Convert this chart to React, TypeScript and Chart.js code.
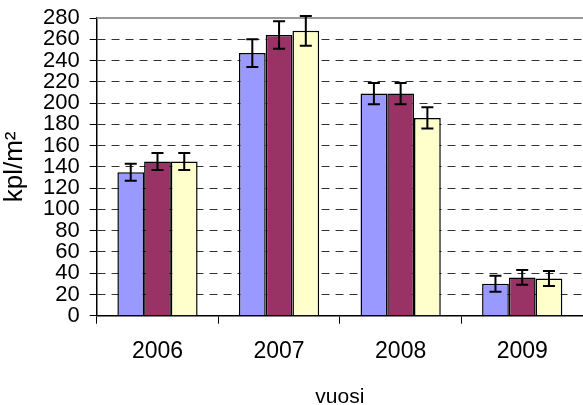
import React, { useEffect, useRef } from "react";
import { Chart, registerables } from "chart.js";

Chart.register(...registerables);

const categories = ["2006", "2007", "2008", "2009"];
const seriesA = [135, 247, 209, 30];
const seriesB = [145, 264, 209, 36];
const seriesC = [145, 268, 186, 35];
const errorsA = [8, 13, 10, 7.5];
const errorsB = [8, 13, 10, 7];
const errorsC = [8, 14, 10, 7];
const yTitle = "kpl/m²";
const xTitle = "vuosi";

const errorsBySeries = [errorsA, errorsB, errorsC];

const errorBarPlugin = {
  id: "errorBars",
  afterDatasetsDraw(chart: any) {
    const ctx = chart.ctx;
    const y = chart.scales.y;
    ctx.save();
    ctx.strokeStyle = "#000";
    ctx.lineWidth = 2;
    chart.data.datasets.forEach((ds: any, di: number) => {
      const meta = chart.getDatasetMeta(di);
      meta.data.forEach((bar: any, i: number) => {
        const v = ds.data[i];
        const e = errorsBySeries[di][i];
        const top = y.getPixelForValue(v + e);
        const bot = y.getPixelForValue(v - e);
        const x = bar.x;
        const cap = 6;
        ctx.beginPath();
        ctx.moveTo(x, top);
        ctx.lineTo(x, bot);
        ctx.moveTo(x - cap, top);
        ctx.lineTo(x + cap, top);
        ctx.moveTo(x - cap, bot);
        ctx.lineTo(x + cap, bot);
        ctx.stroke();
      });
    });
    ctx.restore();
  },
};

const topLinePlugin = {
  id: "topLine",
  beforeDatasetsDraw(chart: any) {
    const { ctx, chartArea } = chart;
    ctx.save();
    ctx.strokeStyle = "#999";
    ctx.lineWidth = 2;
    ctx.beginPath();
    ctx.moveTo(chartArea.left, chartArea.top);
    ctx.lineTo(chartArea.right, chartArea.top);
    ctx.stroke();
    ctx.restore();
  },
};

export default function App() {
  const ref = useRef<HTMLCanvasElement>(null);
  useEffect(() => {
    if (!ref.current) return;
    const font = "'Liberation Sans', Arial, sans-serif";
    const chart = new Chart(ref.current, {
      type: "bar",
      data: {
        labels: categories,
        datasets: [
          { data: seriesA, backgroundColor: "#9999FF", borderColor: "#000", borderWidth: 1.5 },
          { data: seriesB, backgroundColor: "#993366", borderColor: "#000", borderWidth: 1.5 },
          { data: seriesC, backgroundColor: "#FFFFCC", borderColor: "#000", borderWidth: 1.5 },
        ],
      },
      options: {
        animation: false,
        responsive: false,
        maintainAspectRatio: false,
        layout: { padding: { top: 0, right: 0, left: 2, bottom: 0 } },
        datasets: { bar: { categoryPercentage: 0.66, barPercentage: 1 } },
        plugins: {
          legend: { display: false },
          tooltip: { enabled: false },
        },
        scales: {
          x: {
            grid: {
              display: true,
              drawOnChartArea: false,
              drawTicks: true,
              tickLength: 8,
              offset: true,
              color: "#000",
            },
            border: { display: true, color: "#000", width: 1.5 },
            ticks: { color: "#000", font: { family: font, size: 23 }, padding: 14 },
            title: { display: true, text: xTitle, color: "#000", font: { family: font, size: 21, lineHeight: 0.7 }, padding: { top: 11, bottom: 0 } },
          },
          y: {
            min: 0,
            max: 280,
            ticks: { stepSize: 20, autoSkip: false, color: "#000", font: { family: font, size: 22, lineHeight: 0.73 }, padding: 10 },
            grid: {
              color: (c: any) => (c.tick && (c.tick.value === 280 || c.tick.value === 0) ? "rgba(0,0,0,0)" : "#333"),
              lineWidth: 1,
              tickLength: 7,
              tickColor: "#000",
              tickBorderDash: [],
            },
            border: { display: true, color: "#000", width: 1.5, dash: [8, 6] },
            title: { display: true, text: yTitle, color: "#000", font: { family: font, size: 26, lineHeight: 1 }, padding: { top: 0, bottom: 5 } },
          },
        },
      },
      plugins: [errorBarPlugin, topLinePlugin],
    });
    return () => chart.destroy();
  }, []);
  return (
    <div style={{ position: "fixed", left: 0, top: 0, width: 583, height: 405, background: "#fff" }}>
      <canvas ref={ref} width={583} height={405} style={{ width: 583, height: 405 }} />
    </div>
  );
}
